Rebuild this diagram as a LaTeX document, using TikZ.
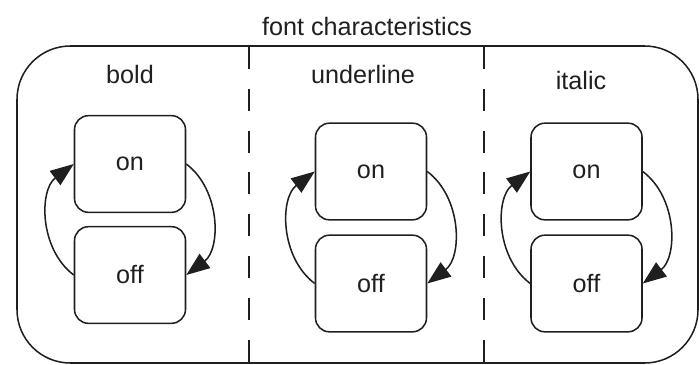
\documentclass[tikz,border=0pt]{standalone}
\usepackage{fontspec}
\setmainfont{Liberation Sans}
\usetikzlibrary{arrows.meta}

\begin{document}
\begin{tikzpicture}[x=0.03cm,y=-0.03cm,line width=1.3pt,color=black!88,
  every node/.style={font=\fontsize{21.5}{25}\selectfont},
  state/.style={draw,rounded corners=0.42cm,minimum width=3.33cm,minimum height=2.9cm,inner sep=0pt},
  trans/.style={-{Triangle[length=20pt,width=15pt]},bend left=53},
  divider/.style={line width=2.3pt,dash pattern=on 18.7pt off 17pt}]
\useasboundingbox (0,0) rectangle (699,365);

\coordinate (TL) at (17,46);
\coordinate (BR) at (698,363);
\draw[rounded corners=1.6cm] (TL) rectangle (BR);
\node[anchor=base] (title) at (367,35) {font characteristics};

% dashed separators
\coordinate (D1) at (249,47);
\coordinate (E1) at (249,365);
\coordinate (D2) at (484,47);
\coordinate (E2) at (484,365);
\draw[divider] (D1)--(E1);
\draw[divider] (D2)--(E2);

% bold
\node[anchor=base] (bold) at (130,83) {bold};
\node[state] (bon) at (130,164) {on};
\node[state] (boff) at (130,275) {off};
\draw[trans] (boff.west) to (bon.west);
\draw[trans] (bon.east) to (boff.east);

% underline
\node[anchor=base] (under) at (363,83) {underline};
\node[state] (uon) at (371,171.5) {on};
\node[state] (uoff) at (371,283.5) {off};
\draw[trans] (uoff.west) to (uon.west);
\draw[trans] (uon.east) to (uoff.east);

% italic
\node[anchor=base] (ital) at (581,89) {italic};
\node[state] (ion) at (586.5,171.5) {on};
\node[state] (ioff) at (586.5,283.5) {off};
\draw[trans] (ioff.west) to (ion.west);
\draw[trans] (ion.east) to (ioff.east);

\end{tikzpicture}
\end{document}
